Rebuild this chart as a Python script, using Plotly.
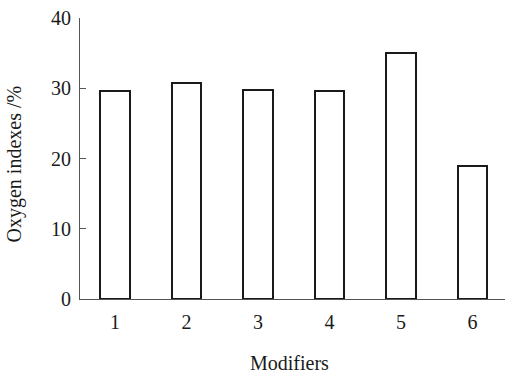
import plotly.graph_objects as go

modifiers = [1, 2, 3, 4, 5, 6]
oxygen_index = [29.6, 30.7, 29.8, 29.6, 35.0, 19.0]
y_ticks = [0, 10, 20, 30, 40]
x_title = "Modifiers"
y_title = "Oxygen indexes /%"

font = "Liberation Serif, Times New Roman, serif"

fig = go.Figure(go.Bar(
    x=modifiers,
    y=oxygen_index,
    width=0.41,
    marker=dict(color="white", line=dict(color="#1a1a1a", width=2)),
))

fig.update_layout(
    width=505, height=373,
    margin=dict(l=80, r=0, t=17.5, b=73.5),
    plot_bgcolor="white", paper_bgcolor="white",
    font=dict(family=font, size=20, color="#1a1a1a"),
    showlegend=False,
    bargap=0,
)
fig.update_xaxes(
    range=[0.51, 6.455],
    tickvals=modifiers,
    ticktext=[str(m) for m in modifiers],
    showline=True, linecolor="#555", linewidth=1,
    showgrid=False, zeroline=False, ticks="",
    ticklabelstandoff=5,
    automargin=False,
    ticklabeloverflow="allow",
)
fig.update_yaxes(
    range=[0, 40],
    tickvals=y_ticks,
    showline=True, linecolor="#555", linewidth=1,
    showgrid=False, zeroline=False,
    ticks="inside", ticklen=6, tickcolor="#555",
    ticklabelstandoff=4,
    automargin=False,
    ticklabeloverflow="allow",
)
fig.add_annotation(text=x_title, xref="paper", yref="paper", x=0.5, y=0,
                   xanchor="center", yanchor="middle", xshift=-3, yshift=-63.5,
                   showarrow=False, font=dict(size=20))
fig.add_annotation(text=y_title, xref="paper", yref="paper", x=0, y=0.5,
                   xanchor="center", yanchor="middle", xshift=-66, yshift=-6,
                   textangle=-90, showarrow=False, font=dict(size=20))

# remove the page's default 8px body margin so the figure fills the window
fig.write_html("out.html", config={"displayModeBar": False},
               post_script="document.body.style.margin='0';")
